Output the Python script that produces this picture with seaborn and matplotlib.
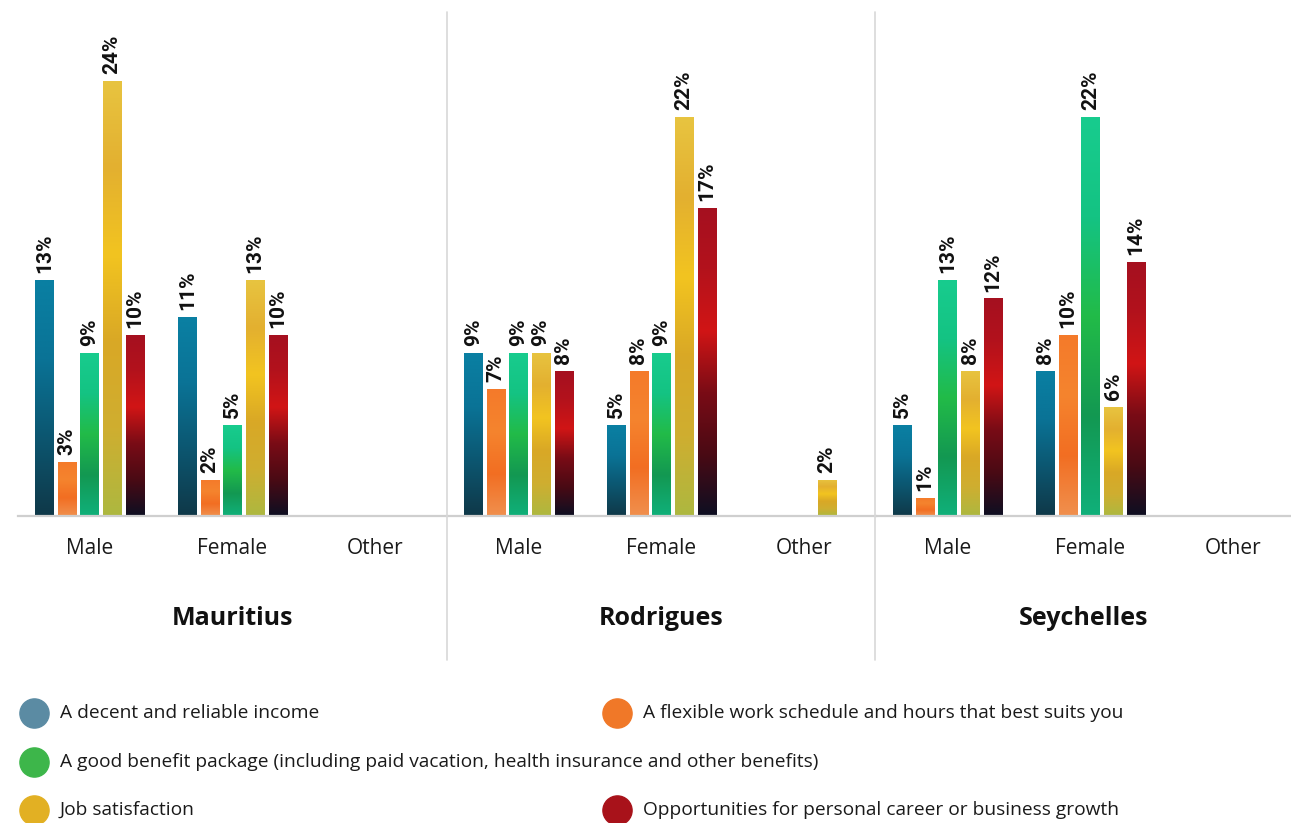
import numpy as np
import pandas as pd
import seaborn as sns
import matplotlib.pyplot as plt
from matplotlib.colors import LinearSegmentedColormap
from matplotlib.lines import Line2D

# ---- data -------------------------------------------------------------
countries = ["Mauritius", "Rodrigues", "Seychelles"]
genders = ["Male", "Female", "Other"]
factors = [
    "A decent and reliable income",
    "A flexible work schedule and hours that best suits you",
    "A good benefit package (including paid vacation, health insurance and other benefits)",
    "Job satisfaction",
    "Opportunities for personal career or business growth",
]

mauritius_male = [13, 3, 9, 24, 10]
mauritius_female = [11, 2, 5, 13, 10]
mauritius_other = [0, 0, 0, 0, 0]
rodrigues_male = [9, 7, 9, 9, 8]
rodrigues_female = [5, 8, 9, 22, 17]
rodrigues_other = [0, 0, 0, 2, 0]
seychelles_male = [5, 1, 13, 8, 12]
seychelles_female = [8, 10, 22, 6, 14]
seychelles_other = [0, 0, 0, 0, 0]

values = {
    "Mauritius": [mauritius_male, mauritius_female, mauritius_other],
    "Rodrigues": [rodrigues_male, rodrigues_female, rodrigues_other],
    "Seychelles": [seychelles_male, seychelles_female, seychelles_other],
}

rows = []
for c in countries:
    for g, vals in zip(genders, values[c]):
        for f, v in zip(factors, vals):
            rows.append({"country": c, "gender": g, "factor": f, "value": v})
df = pd.DataFrame(rows)

# ---- styling ----------------------------------------------------------
base_colors = ["#0a6f8e", "#f47a2a", "#1cb86a", "#e2b326", "#b5121b"]
legend_colors = ["#5b8ba3", "#f07828", "#3db64a", "#e2b023", "#a8121a"]

# vertical fills, listed bottom -> top
fills = [
    ["#0f3848", "#0c5670", "#0a7396", "#0a80a3"],
    ["#f0904e", "#f26e22", "#f5842e", "#f47a2a"],
    ["#10b07a", "#139852", "#22bb48", "#14c383", "#18cc8e"],
    ["#adb840", "#cfae30", "#d9a826", "#f2c420", "#e3b030", "#e8c440"],
    ["#0e0f22", "#4a0a14", "#7a0c16", "#d11515", "#b3121c", "#a51020"],
]
cmaps = [LinearSegmentedColormap.from_list(f"fill{i}", c) for i, c in enumerate(fills)]

sns.set_theme(style="white")
plt.rcParams["font.family"] = ["Open Sans", "Noto Sans", "DejaVu Sans"]

W, H = 1291, 823
fig = plt.figure(figsize=(W / 100, H / 100), dpi=100)


def fx(px):
    return px / W


def fy(py):
    return 1 - py / H


group_px = 143.0
base_y, top_y = 516, 12
panel_left = [18, 447, 876]
ymax = 27.8

for i, country in enumerate(countries):
    left = panel_left[i]
    right = min(left + 3 * group_px, W)
    ax = fig.add_axes([fx(left), fy(base_y), fx(right - left), fy(top_y) - fy(base_y)])
    sub = df[df["country"] == country]
    sns.barplot(
        data=sub, x="gender", y="value", hue="factor",
        order=genders, hue_order=factors, palette=base_colors,
        width=0.79, gap=0.2, saturation=1, errorbar=None,
        legend=False, linewidth=0, ax=ax,
    )
    for k, cont in enumerate(ax.containers):
        for p in cont.patches:
            h = p.get_height()
            if not h > 0:
                continue
            x0, w = p.get_x(), p.get_width()
            grad = np.linspace(1, 0, 256).reshape(-1, 1)
            im = ax.imshow(grad, extent=[x0, x0 + w, 0, h], origin="upper",
                           aspect="auto", cmap=cmaps[k], vmin=0, vmax=1,
                           interpolation="bilinear", zorder=p.get_zorder() + 0.1)
            im.set_clip_path(p)
        labels = [f"{v:.0f}%" if v > 0 else "" for v in cont.datavalues]
        ax.bar_label(cont, labels=labels, rotation=90, padding=5,
                     fontsize=15, fontweight="bold", family="Roboto",
                     color="#111111")
    ax.set_xlim(-0.5, -0.5 + (right - left) / group_px)
    ax.set_ylim(0, ymax)
    ax.set_yticks([])
    ax.set_ylabel("")
    ax.tick_params(axis="x", length=0, pad=15.5, labelsize=15, labelcolor="#1a1a1a")
    ax.set_xlabel(country, fontsize=18, fontweight="bold", color="#111111",
                  labelpad=34, family="Open Sans")
    for s in ["left", "right", "top"]:
        ax.spines[s].set_visible(False)
    ax.spines["bottom"].set_color("#cfcfcf")
    ax.spines["bottom"].set_linewidth(1.6)
    ax.set_facecolor("none")

# panel separators
for xs in [447, 875]:
    fig.add_artist(Line2D([fx(xs), fx(xs)], [fy(12), fy(660)],
                          transform=fig.transFigure, color="#d8d8d8", lw=1.2))

# legend
legend_pos = [(34, 713), (617, 713), (34, 762), (34, 810), (617, 810)]
for (cx, cy), col, lab in zip(legend_pos, legend_colors, factors):
    fig.add_artist(Line2D([fx(cx)], [fy(cy)], transform=fig.transFigure,
                          marker="o", markersize=21, color=col, linestyle="none"))
    fig.text(fx(cx + 26), fy(cy), lab, fontsize=13.8, color="#1a1a1a",
             va="center", ha="left")

fig.savefig("out.png", dpi=100, facecolor="white")
